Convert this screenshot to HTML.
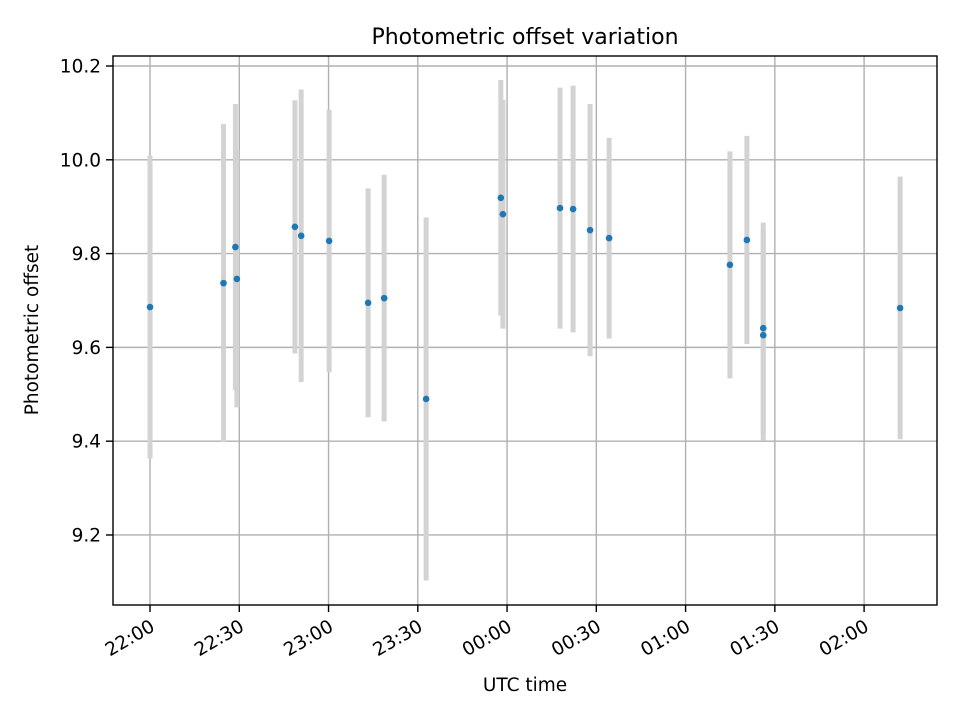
<!DOCTYPE html>
<html><head><meta charset="utf-8"><style>
html,body{margin:0;padding:0;background:#fff}
svg{display:block;font-family:"DejaVu Sans","Liberation Sans",sans-serif}
</style></head><body>
<svg id="chart" width="960" height="720" xmlns="http://www.w3.org/2000/svg">
<rect x="0" y="0" width="960" height="720" fill="#fff"/>
<g id="grid"></g>
<g id="errs"></g>
<g id="pts"></g>
<rect x="113" y="56" width="824" height="549" fill="none" stroke="#000" stroke-width="1.4"/>
<g id="axes"></g>
<text x="525" y="44" font-size="22" text-anchor="middle">Photometric offset variation</text>
<text x="525" y="691" font-size="18.5" text-anchor="middle">UTC time</text>
<text transform="translate(38,330) rotate(-90)" font-size="18.5" text-anchor="middle">Photometric offset</text>
</svg>
<script>
// minutes after 22:00 UTC
const times = [0,24.7,28.7,29.2,48.7,50.8,60.2,73.3,78.7,92.8,117.9,118.6,137.8,142.2,147.9,154.3,194.9,200.6,206.1,206.1,252.1];
const offsets = [9.686,9.737,9.814,9.746,9.857,9.838,9.827,9.695,9.705,9.490,9.919,9.884,9.897,9.895,9.850,9.833,9.776,9.829,9.641,9.626,9.684];
const errors = [0.323,0.339,0.305,0.274,0.270,0.312,0.280,0.244,0.263,0.387,0.251,0.244,0.257,0.263,0.269,0.214,0.242,0.222,0.225,0.225,0.280];
const xTickMinutes = [0,30,60,90,120,150,180,210,240];
const xTickLabels = ["22:00","22:30","23:00","23:30","00:00","00:30","01:00","01:30","02:00"];
const yTicks = [9.2,9.4,9.6,9.8,10.0,10.2];
const yTickLabels = ["9.2","9.4","9.6","9.8","10.0","10.2"];

const L=113,R=937,T=56,B=605;
const xMin=-12.44,xMax=264.5,yMin=9.0507,yMax=10.2213;
function sx(m){return L+(m-xMin)/(xMax-xMin)*(R-L);}
function sy(v){return B-(v-yMin)/(yMax-yMin)*(B-T);}
const NS="http://www.w3.org/2000/svg";
function mk(tag,attrs,parent){const e=document.createElementNS(NS,tag);for(const k in attrs)e.setAttribute(k,attrs[k]);parent.appendChild(e);return e;}
const grid=document.getElementById('grid'),axes=document.getElementById('axes'),errs=document.getElementById('errs'),pts=document.getElementById('pts');
xTickMinutes.forEach((m,i)=>{
  const x=sx(m);
  const g=mk('line',{x1:x,x2:x,y1:T,y2:B,stroke:'#b0b0b0','stroke-width':1.4},grid);
  
  
  const t=mk('line',{x1:x,x2:x,y1:B,y2:B+7,stroke:'#000','stroke-width':1.4},axes);
  
  
  const lb=mk('text',{transform:`translate(${x+6},${B+25}) rotate(-30)`,'font-size':18.5,'text-anchor':'end'},axes);
  lb.textContent=xTickLabels[i];
  
  
});
yTicks.forEach((v,i)=>{
  const y=sy(v);
  const g=mk('line',{x1:L,x2:R,y1:y,y2:y,stroke:'#b0b0b0','stroke-width':1.4},grid);
  
  
  const t=mk('line',{x1:L-7,x2:L,y1:y,y2:y,stroke:'#000','stroke-width':1.4},axes);
  
  
  const lb=mk('text',{x:L-12,y:y+6.5,'font-size':18.5,'text-anchor':'end'},axes);
  lb.textContent=yTickLabels[i];
  
  
});
times.forEach((m,i)=>{
  const x=sx(m);
  const e=mk('line',{x1:x,x2:x,y1:sy(offsets[i]+errors[i]),y2:sy(offsets[i]-errors[i]),stroke:'#d3d3d3','stroke-width':5},errs);
  
  
  const c=mk('circle',{cx:x,cy:sy(offsets[i]),r:3.3,fill:'#1f77b4'},pts);
  
  
});
</script>
</body></html>
